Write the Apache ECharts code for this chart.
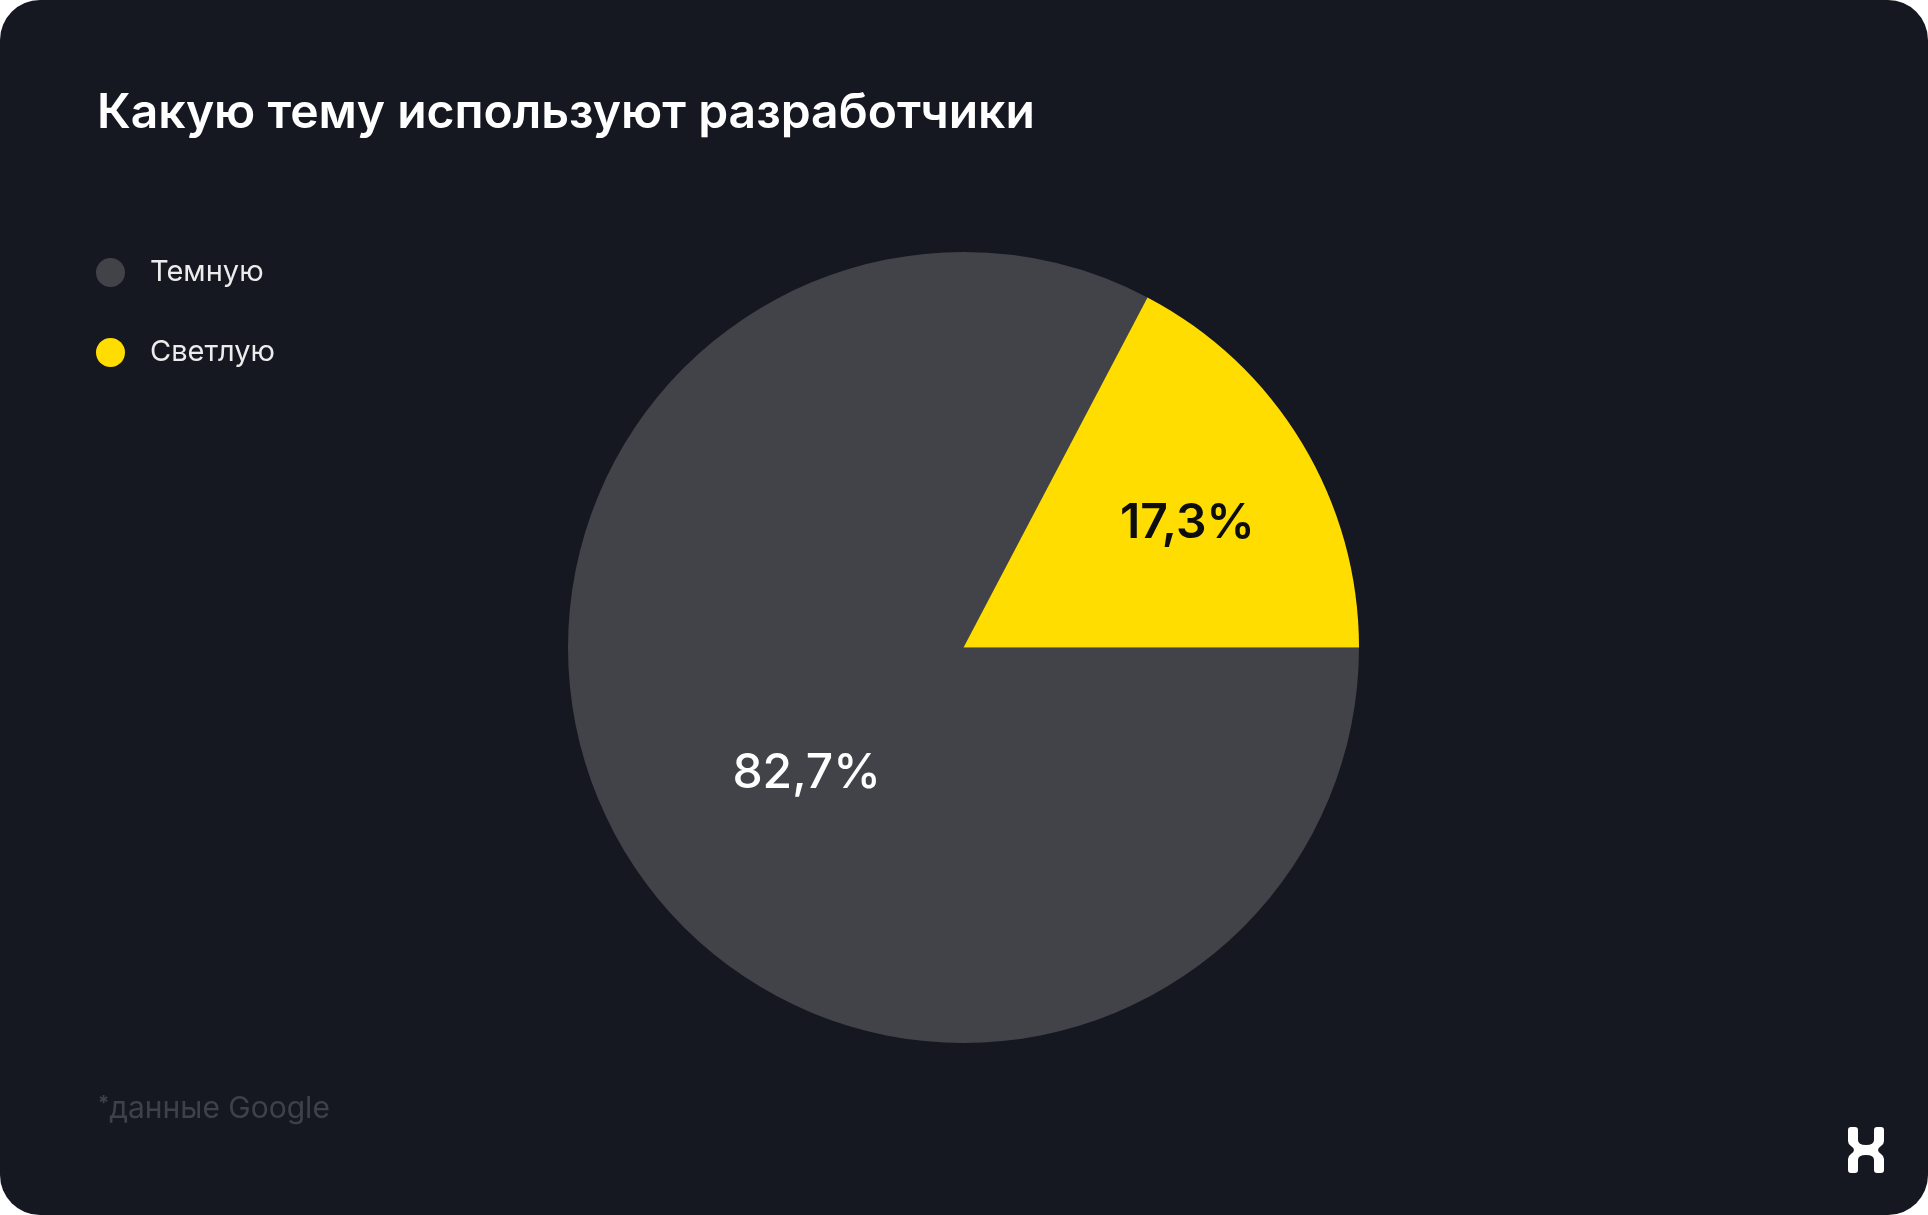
<!DOCTYPE html>
<html>
<head>
<meta charset="utf-8">
<script src="https://cdn.jsdelivr.net/npm/echarts@6/dist/echarts.min.js"></script>
<style>
  html, body { margin: 0; padding: 0; background: #ffffff; }
  #chart { width: 1928px; height: 1215px; border-radius: 40px; overflow: hidden; }
</style>
</head>
<body>
<div id="chart"></div>
<script>
const titleText = 'Какую тему используют разработчики';
const footnoteText = 'данные Google';
const categories = ['Темную', 'Светлую'];
const values = [82.7, 17.3];
const colors = ['#424349', '#FFDD00'];
const labelColors = ['#ffffff', '#0d0d0d'];
const labelWeights = [500, 600];
const labelOffsets = [[15, 22], [52, -20]];

const FONT = 'Inter, "Noto Sans", sans-serif';

const logoSvg = '<svg xmlns="http://www.w3.org/2000/svg" width="36" height="46" viewBox="0 0 36 46"><path fill="#ffffff" d="M 3 0 L 7 0 Q 10 0 10 3 L 10 13 Q 10 18 18 18 Q 26 18 26 13 L 26 3 Q 26 0 29 0 L 33 0 Q 36 0 36 3 L 36 14 Q 36 17 33 19 Q 30 21 30 23 Q 30 25 33 27 Q 36 29 36 32 L 36 43 Q 36 46 33 46 L 29 46 Q 26 46 26 43 L 26 33 Q 26 28 18 28 Q 10 28 10 33 L 10 43 Q 10 46 7 46 L 3 46 Q 0 46 0 43 L 0 32 Q 0 29 3 27 Q 6 25 6 23 Q 6 21 3 19 Q 0 17 0 14 L 0 3 Q 0 0 3 0 Z"/></svg>';
const logoUrl = 'data:image/svg+xml;charset=utf-8,' + encodeURIComponent(logoSvg);

const chart = echarts.init(document.getElementById('chart'), null, { renderer: 'canvas' });

const pieData = categories.map((name, i) => ({
  name: name,
  value: values[i],
  itemStyle: { color: colors[i] },
  label: {
    color: labelColors[i],
    fontWeight: labelWeights[i],
    offset: labelOffsets[i]
  }
}));

const option = {
  backgroundColor: '#151820',
  animation: false,
  title: [
    {
      text: titleText,
      left: 97,
      top: 90,
      padding: 0,
      textStyle: { color: '#ffffff', fontFamily: FONT, fontSize: 48, fontWeight: 600 }
    },
    {
      text: '{a|*}{b|' + footnoteText + '}',
      left: 98,
      top: 1094,
      padding: 0,
      textStyle: {
        rich: {
          a: { color: '#3e414b', fontFamily: FONT, fontSize: 20, verticalAlign: 'top', padding: [0, 0, 10, 0] },
          b: { color: '#3e414b', fontFamily: FONT, fontSize: 30, fontWeight: 400 }
        }
      }
    }
  ],
  legend: {
    orient: 'vertical',
    left: 96,
    top: 257,
    padding: 0,
    itemWidth: 29,
    itemHeight: 29,
    itemGap: 49,
    icon: 'circle',
    data: categories,
    selectedMode: false,
    textStyle: {
      color: '#ececec',
      fontFamily: FONT,
      fontSize: 29,
      fontWeight: 400,
      lineHeight: 29,
      padding: [2, 0, 0, 20]
    }
  },
  series: [
    {
      type: 'pie',
      center: [963.5, 647.5],
      radius: 395.5,
      startAngle: 0,
      clockwise: true,
      avoidLabelOverlap: false,
      silent: true,
      itemStyle: { borderWidth: 0 },
      label: {
        show: true,
        position: 'inside',
        fontFamily: FONT,
        fontSize: 48,
        formatter: p => p.value.toFixed(1).replace('.', ',') + '%'
      },
      labelLine: { show: false },
      data: pieData
    }
  ],
  graphic: [
    {
      type: 'image',
      left: 1848,
      top: 1127,
      style: { image: logoUrl, width: 36, height: 46 }
    }
  ]
};

chart.setOption(option);
</script>
</body>
</html>
